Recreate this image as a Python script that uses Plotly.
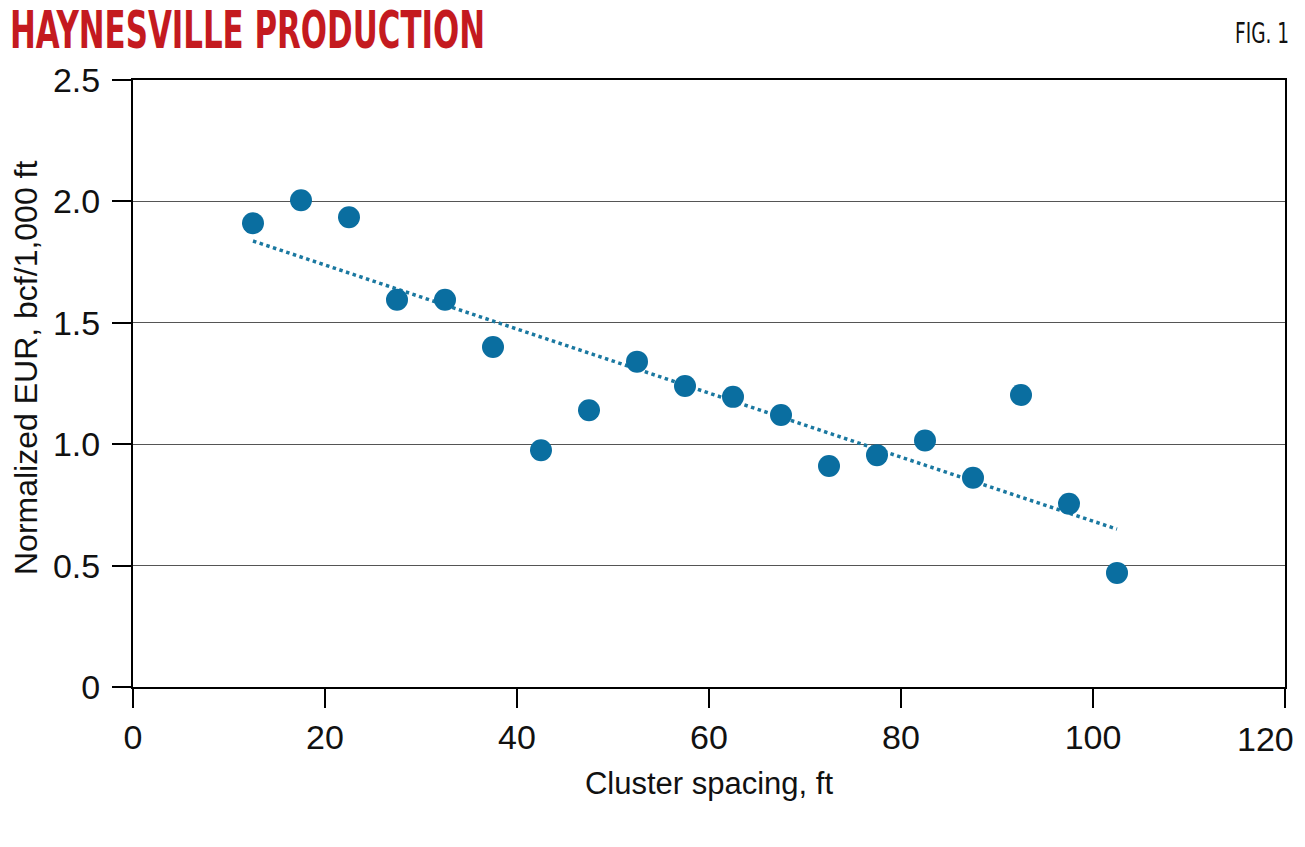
import plotly.graph_objects as go

# Data
cluster_spacing = [12.5, 17.5, 22.5, 27.5, 32.5, 37.5, 42.5, 47.5, 52.5, 57.5,
                   62.5, 67.5, 72.5, 77.5, 82.5, 87.5, 92.5, 97.5, 102.5]
normalized_eur = [1.91, 2.005, 1.935, 1.595, 1.595, 1.40, 0.975, 1.14, 1.34, 1.24,
                  1.195, 1.12, 0.91, 0.955, 1.015, 0.862, 1.203, 0.755, 0.47]
trend_x = [12.5, 102.5]
trend_y = [1.837, 0.65]

y_tickvals = [0, 0.5, 1.0, 1.5, 2.0, 2.5]
y_ticktext = ["0", "0.5", "1.0", "1.5", "2.0", "2.5"]
x_tickvals = [0, 20, 40, 60, 80, 100, 120]
x_ticktext = ["0", "20", "40", "60", "80", "100", "120"]

title_text = "HAYNESVILLE PRODUCTION"
fig_label = "FIG. 1"
x_title = "Cluster spacing, ft"
y_title = "Normalized EUR, bcf/1,000 ft"

# figure geometry (page has an 8px body margin)
W, H = 1297, 831
ML, MR, MT, MB = 125, 20, 72, 152
PW, PH = W - ML - MR, H - MT - MB

fig = go.Figure()
fig.add_trace(go.Scatter(
    x=trend_x, y=trend_y, mode="lines",
    line=dict(color="#1a78a0", width=3.5, dash="dot"),
    hoverinfo="skip", showlegend=False,
))
fig.add_trace(go.Scatter(
    x=cluster_spacing, y=normalized_eur, mode="markers",
    marker=dict(color="#0a6ea0", size=22, line=dict(width=0)),
    showlegend=False,
))

base_family = "Liberation Sans, Arial, sans-serif"
axis_font = dict(family=base_family, size=34, color="#111")

# the last x label sits flush with the right edge in the reference,
# so it is drawn as an annotation anchored at its tick value
axis_ticktext = x_ticktext[:-1] + [""]

fig.update_layout(
    width=W, height=H,
    margin=dict(l=ML, r=MR, t=MT, b=MB, autoexpand=False),
    paper_bgcolor="white", plot_bgcolor="white",
    xaxis=dict(
        range=[0, 120], tickvals=x_tickvals, ticktext=axis_ticktext, ticks="outside", ticklen=19,
        tickwidth=2, tickcolor="black", showline=True, linecolor="black",
        linewidth=2, mirror=True, showgrid=False, zeroline=False,
        tickfont=axis_font, ticklabelstandoff=0, ticklabeloverflow="allow",
        automargin=False,
        title=dict(text=x_title, font=dict(family=base_family, size=31, color="#111"), standoff=18),
    ),
    yaxis=dict(
        range=[0, 2.5], tickvals=y_tickvals, ticktext=y_ticktext, ticks="outside",
        ticklen=19, tickwidth=2, tickcolor="black", showline=True,
        linecolor="black", linewidth=2, mirror=True, showgrid=True,
        gridcolor="#555", gridwidth=1.2, zeroline=False,
        tickfont=axis_font, ticklabelstandoff=5, ticklabeloverflow="allow",
        automargin=False,
    ),
    annotations=[
        dict(text=title_text, xref="paper", yref="paper",
             x=0 - ML / PW, y=1 + (MT + 9) / PH, xanchor="left", yanchor="top",
             align="left", showarrow=False,
             font=dict(family="Liberation Sans Narrow, DejaVu Sans Condensed, sans-serif",
                       size=51, weight=700, color="#c41a1f")),
        dict(text=fig_label, xref="paper", yref="paper",
             x=1 + 6 / PW, y=1 + (MT - 25) / PH, xanchor="right", yanchor="middle",
             align="right", showarrow=False,
             font=dict(family="Liberation Sans Narrow, DejaVu Sans Condensed, sans-serif",
                       size=29, color="#111")),
        dict(text=y_title, xref="paper", yref="paper", textangle=-90,
             x=(18 - ML) / PW, y=(H - MB - 360) / PH, xanchor="center", yanchor="middle",
             showarrow=False,
             font=dict(family=base_family, size=32, color="#111")),
        dict(text=x_ticktext[-1], xref="x", yref="paper",
             x=x_tickvals[-1], y=0, xanchor="right", yanchor="top",
             xshift=11, yshift=-31, showarrow=False, font=axis_font),
    ],
)

post_js = """
var gd = document.getElementById('{plot_id}');
gd.querySelectorAll('text.annotation-text').forEach(function(t){
  var s = t.textContent;
  if (s.indexOf('HAYNESVILLE') >= 0) {
    t.setAttribute('textLength', '475');
    t.setAttribute('lengthAdjust', 'spacingAndGlyphs');
  } else if (s.indexOf('FIG.') >= 0) {
    t.setAttribute('textLength', '54');
    t.setAttribute('lengthAdjust', 'spacingAndGlyphs');
  }
});
"""

fig.write_html("out.html", post_script=post_js)
